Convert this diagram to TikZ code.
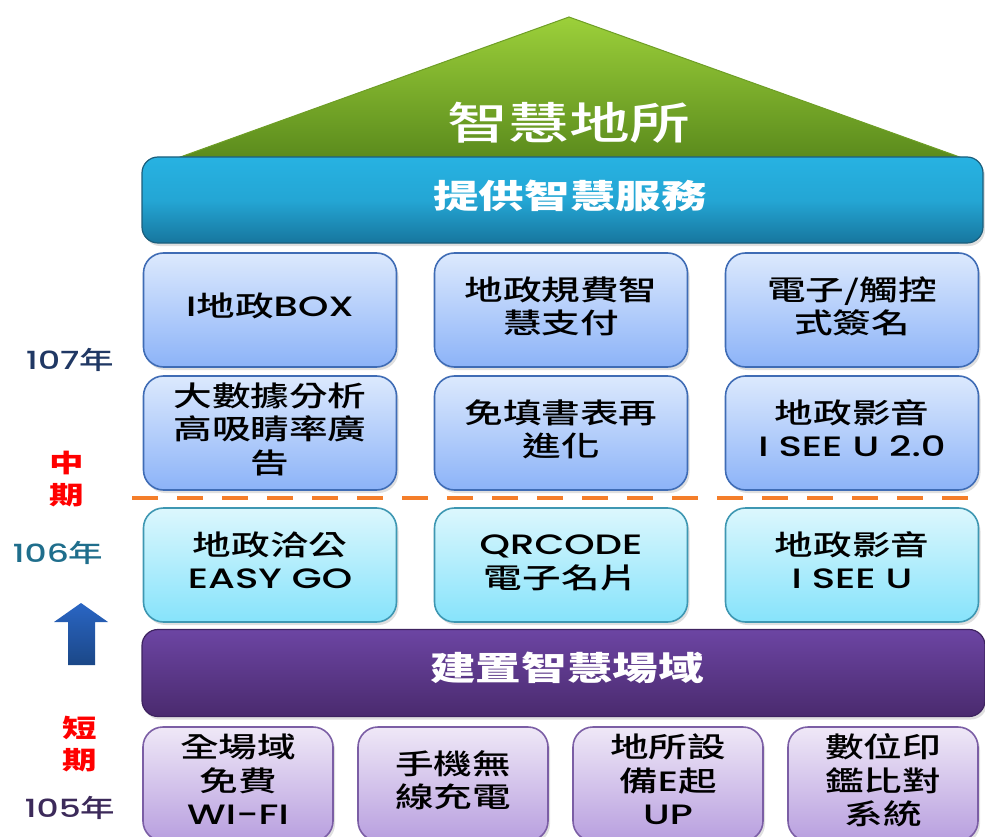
\documentclass[tikz,border=0pt]{standalone}
\usepackage{fontspec}
\usepackage{graphicx}
\setmainfont{Noto Sans CJK TC}
\newfontfamily\med{Noto Sans CJK TC Medium}
\newfontfamily\lat{Poppins}
\newfontfamily\latm{Poppins Medium}
\usetikzlibrary{shadows}
\newcommand{\sx}[1]{\scalebox{1.38}[1]{\begin{tabular}{@{}c@{}}#1\end{tabular}}}
\definecolor{bluetop}{HTML}{DCE9FD}
\definecolor{bluebot}{HTML}{8CB3F8}
\definecolor{bluedraw}{HTML}{3F6CB5}
\definecolor{cyantop}{HTML}{DCF7FD}
\definecolor{cyanbot}{HTML}{86E3FB}
\definecolor{cyandraw}{HTML}{3E97B2}
\definecolor{lavtop}{HTML}{EFE8F7}
\definecolor{lavbot}{HTML}{B89FDF}
\definecolor{lavdraw}{HTML}{7B5EA5}
\definecolor{bandAtop}{HTML}{27B2E2}
\definecolor{bandAbot}{HTML}{17769E}
\definecolor{bandAdraw}{HTML}{1B5E7C}
\definecolor{bandBtop}{HTML}{6C45A3}
\definecolor{bandBbot}{HTML}{4A2A6E}
\definecolor{bandBdraw}{HTML}{3E2360}
\definecolor{tritop}{HTML}{9CD03A}
\definecolor{tribot}{HTML}{5A8A1C}
\definecolor{tridraw}{HTML}{6E9E26}
\definecolor{dashor}{HTML}{F47E2A}
\definecolor{arrtop}{HTML}{2A66C4}
\definecolor{arrbot}{HTML}{1B4787}
\definecolor{navy}{HTML}{203864}
\definecolor{tealy}{HTML}{1F6E8C}
\definecolor{purpy}{HTML}{3C2A5A}
\tikzset{
  shad/.style={drop shadow={opacity=0.25, shadow xshift=2pt, shadow yshift=-3pt}},
  cardbox/.style={rounded corners=20pt, line width=1.6pt, inner sep=0pt,
    minimum height=114pt, shad, font=\fontsize{28}{33}\med, text=black},
  bluebox/.style={cardbox, draw=bluedraw, top color=bluetop, bottom color=bluebot, minimum width=253pt},
  cyanbox/.style={cardbox, draw=cyandraw, top color=cyantop, bottom color=cyanbot, minimum width=253pt},
  lavbox/.style={cardbox, draw=lavdraw, top color=lavtop, bottom color=lavbot, minimum width=190pt},
  band/.style={rounded corners=16pt, line width=1.2pt, inner sep=0pt, minimum height=86pt, shad},
  bandtxt/.style={font=\fontsize{33}{38}\bfseries\selectfont, text=white, inner sep=0pt},
  yeartxt/.style={font=\fontsize{25}{30}\med, inner sep=0pt},
  redtxt/.style={font=\fontsize{25}{32}\bfseries\selectfont, text=red, inner sep=0pt}
}
\begin{document}
\begin{tikzpicture}[x=1pt,y=-1pt]
\useasboundingbox (0,0) rectangle (985,837);
\clip (0,0) rectangle (985,837);
% roof
\shade[top color=tritop, bottom color=tribot, draw=tridraw, line width=1pt]
  (569,17) -- (968,160) -- (172,160) -- cycle;
\node[font=\fontsize{44}{50}\med, text=white, inner sep=0pt] (title) at (569,128) {\sx{智慧地所}};
% top band
\node[band, draw=bandAdraw, top color=bandAtop, bottom color=bandAbot, middle color=bandAtop!80!bandAbot, minimum width=841pt] (bandA) at (562.5,200) {};
\node[bandtxt] (bandAtext) at (570,200) {\sx{提供智慧服務}};
% row 107 a
\node[bluebox] (b11) at (270,310) {\sx{{\latm I}地政{\latm BOX}}};
\node[bluebox] (b12) at (561,310) {\sx{地政規費智\\慧支付}};
\node[bluebox] (b13) at (852,310) {\sx{電子/觸控\\式簽名}};
% row 107 b
\node[bluebox] (b21) at (270,433) {\sx{大數據分析\\高吸睛率廣\\告}};
\node[bluebox] (b22) at (561,433) {\sx{免填書表再\\進化}};
\node[bluebox] (b23) at (852,433) {\sx{地政影音\\{\latm I SEE U 2.0}}};
% dashed divider
\coordinate (dl) at (132,498);
\coordinate (dr) at (985,498);
\draw[dashor, line width=4pt, dash pattern=on 26pt off 19pt] (dl) -- (dr);
% row 106
\node[cyanbox] (b31) at (270,565) {\sx{地政洽公\\{\latm EASY GO}}};
\node[cyanbox] (b32) at (561,565) {\sx{{\latm QRCODE}\\電子名片}};
\node[cyanbox] (b33) at (852,565) {\sx{地政影音\\{\latm I SEE U}}};
% bottom band
\node[band, draw=bandBdraw, top color=bandBtop, bottom color=bandBbot, minimum width=843pt, minimum height=87pt] (bandB) at (563.5,673) {};
\node[bandtxt] (bandBtext) at (567,672) {\sx{建置智慧場域}};
% row 105
\node[lavbox] (b41) at (238,784) {\sx{全場域\\免費\\{\latm WI-FI}}};
\node[lavbox] (b42) at (453,784) {\sx{手機無\\線充電}};
\node[lavbox] (b43) at (668,784) {\sx{地所設\\備{\latm E}起\\{\latm UP}}};
\node[lavbox] (b44) at (883,784) {\sx{數位印\\鑑比對\\系統}};
% left labels
\node[yeartxt, text=navy] (y107) at (70,360) {\scalebox{1.38}[1]{{\latm 107}年}};
\node[redtxt] (mid) at (67,482) {\sx{中\\期}};
\node[yeartxt, text=tealy] (y106) at (58,553) {\scalebox{1.38}[1]{{\latm 106}年}};
\shade[top color=arrtop, bottom color=arrbot]
  (81,603) -- (108,622) -- (95,622) -- (95,665) -- (68,665) -- (68,622) -- (54,622) -- cycle;
\node[redtxt] (short) at (79.5,747) {\sx{短\\期}};
\node[yeartxt, text=purpy] (y105) at (70,808) {\scalebox{1.38}[1]{{\latm 105}年}};
\end{tikzpicture}
\end{document}
